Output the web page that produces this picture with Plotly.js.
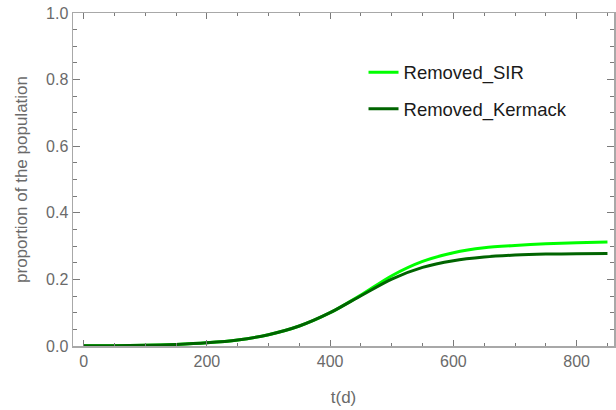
<!DOCTYPE html>
<html>
<head>
<meta charset="utf-8">
<script src="https://cdn.plot.ly/plotly-3.0.1.min.js"></script>
<style>html,body{margin:0;padding:0;background:#fff;}#chart{width:616px;height:410px;}</style>
</head>
<body>
<div id="chart"></div>
<script>
const tDays = [0, 50, 100, 150, 200, 250, 300, 350, 400, 450, 500, 550, 600, 650, 700, 750, 800, 850];
const removedSIR = [0.0005, 0.001, 0.0022, 0.0047, 0.0095, 0.018, 0.034, 0.060, 0.100, 0.153, 0.211, 0.254, 0.280, 0.295, 0.302, 0.307, 0.310, 0.312];
const removedKermack = [0.0005, 0.001, 0.0022, 0.0047, 0.0095, 0.018, 0.034, 0.060, 0.100, 0.151, 0.201, 0.236, 0.256, 0.267, 0.273, 0.276, 0.277, 0.278];
const seriesNames = ["Removed_SIR", "Removed_Kermack"];
const xTickVals = [0, 200, 400, 600, 800];
const yTickVals = [0, 0.2, 0.4, 0.6, 0.8, 1.0];
const yTickText = ["0.0", "0.2", "0.4", "0.6", "0.8", "1.0"];

const font = "Liberation Sans, Arial, sans-serif";
const grey = "#6a6a6a";

const traces = [
  {x: tDays, y: removedSIR, name: seriesNames[0], mode: "lines",
   line: {color: "#00ff00", width: 3, shape: "spline", smoothing: 0.8}, legend: "legend"},
  {x: tDays, y: removedKermack, name: seriesNames[1], mode: "lines",
   line: {color: "#006400", width: 3, shape: "spline", smoothing: 0.8}, legend: "legend2"}
];

const axisCommon = {
  showgrid: false, zeroline: false, showline: true, mirror: "allticks",
  linecolor: "#a8a8a8", linewidth: 1.5,
  ticks: "inside", tickcolor: "#7a7a7a", tickwidth: 1,
  tickfont: {family: font, size: 16, color: grey}
};

const legendCommon = {xanchor: "left", yanchor: "middle", bgcolor: "rgba(0,0,0,0)",
  font: {family: font, size: 18.5, color: "#1a1a1a"}};

const layout = {
  width: 616, height: 410,
  margin: {l: 72.7, r: 2, t: 13.3, b: 64.3},
  paper_bgcolor: "#ffffff", plot_bgcolor: "#ffffff",
  showlegend: true,
  xaxis: Object.assign({}, axisCommon, {
    range: [-17.2, 860.6], tickvals: xTickVals, ticklen: 6,
    minor: {dtick: 50, tick0: 0, ticks: "inside", ticklen: 3, tickcolor: "#7a7a7a", tickwidth: 1},
    title: {text: "t(d)", font: {family: font, size: 17, color: grey}, standoff: 22}
  }),
  yaxis: Object.assign({}, axisCommon, {
    range: [0, 1], tickvals: yTickVals, ticktext: yTickText, ticklen: 7,
    minor: {dtick: 0.05, tick0: 0, ticks: "inside", ticklen: 4, tickcolor: "#7a7a7a", tickwidth: 1},
    title: {text: "proportion of the population", font: {family: font, size: 17, color: grey}, standoff: 14}
  }),
  legend: Object.assign({x: 0.537, y: 0.821}, legendCommon),
  legend2: Object.assign({x: 0.537, y: 0.711}, legendCommon)
};

Plotly.newPlot("chart", traces, layout, {displayModeBar: false, staticPlot: true});
</script>
</body>
</html>
